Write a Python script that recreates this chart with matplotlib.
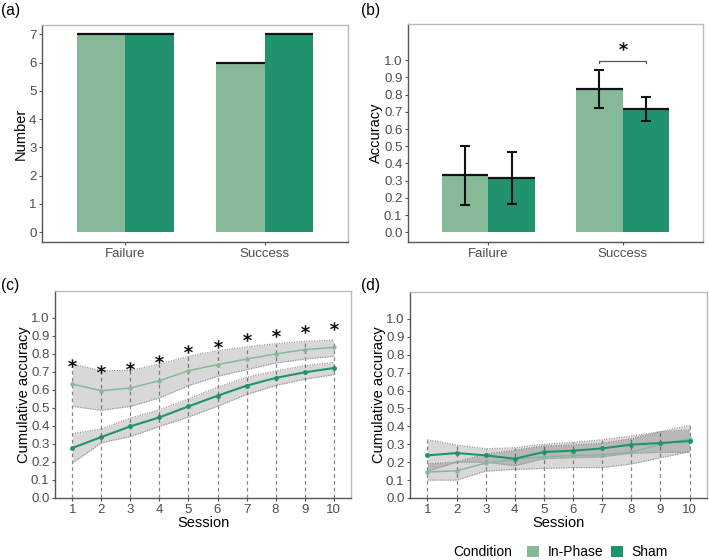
import numpy as np
import matplotlib
matplotlib.use("Agg")
import matplotlib.pyplot as plt
from matplotlib.patches import Patch

plt.rcParams['font.family'] = ['Liberation Sans', 'DejaVu Sans']

# ---------------- data ----------------
categories = ['Failure', 'Success']
conditions = ['In-Phase', 'Sham']
count_inphase = [7, 6]
count_sham = [7, 7]

acc_inphase = [0.333, 0.831]
acc_inphase_lo = [0.159, 0.720]
acc_inphase_hi = [0.503, 0.940]
acc_sham = [0.316, 0.716]
acc_sham_lo = [0.165, 0.647]
acc_sham_hi = [0.469, 0.788]

sessions = [1, 2, 3, 4, 5, 6, 7, 8, 9, 10]
session_labels = ['1', '2', '3', '4', '5', '6', '7', '8', '9', '10']

# panel (c): success group
c_inphase = [0.633, 0.596, 0.611, 0.652, 0.707, 0.741, 0.772, 0.800, 0.824, 0.837]
c_inphase_lo = [0.509, 0.487, 0.509, 0.556, 0.624, 0.676, 0.713, 0.750, 0.772, 0.787]
c_inphase_hi = [0.744, 0.707, 0.709, 0.744, 0.787, 0.818, 0.839, 0.857, 0.870, 0.876]
c_sham = [0.278, 0.339, 0.398, 0.448, 0.509, 0.568, 0.624, 0.667, 0.698, 0.722]
c_sham_lo = [0.194, 0.306, 0.342, 0.398, 0.450, 0.510, 0.575, 0.625, 0.660, 0.685]
c_sham_hi = [0.357, 0.383, 0.444, 0.490, 0.550, 0.615, 0.670, 0.705, 0.735, 0.753]
c_star = [0.750, 0.717, 0.735, 0.772, 0.828, 0.857, 0.894, 0.917, 0.939, 0.953]

# panel (d): failure group
d_inphase = [0.145, 0.152, 0.195, 0.216, 0.229, 0.238, 0.241, 0.256, 0.299, 0.331]
d_inphase_lo = [0.100, 0.100, 0.150, 0.160, 0.165, 0.170, 0.170, 0.190, 0.225, 0.258]
d_inphase_hi = [0.190, 0.200, 0.245, 0.265, 0.290, 0.295, 0.305, 0.330, 0.370, 0.405]
d_sham = [0.238, 0.251, 0.238, 0.219, 0.257, 0.264, 0.277, 0.298, 0.307, 0.318]
d_sham_lo = [0.150, 0.200, 0.200, 0.180, 0.220, 0.225, 0.230, 0.250, 0.255, 0.255]
d_sham_hi = [0.325, 0.295, 0.275, 0.280, 0.300, 0.310, 0.325, 0.345, 0.370, 0.380]

# ---------------- style ----------------
C_IN = '#86B997'
C_SH = '#21926E'
TICK_C = '#4D4D4D'
W, H = 709, 560

fig = plt.figure(figsize=(W / 100, H / 100), dpi=100)


def rect(l, r, t, b):
    return [l / W, 1 - b / H, (r - l) / W, (b - t) / H]


def style(ax):
    for s in ['top', 'right']:
        ax.spines[s].set_color('#BBBBBB')
        ax.spines[s].set_linewidth(1.0)
    for s in ['left', 'bottom']:
        ax.spines[s].set_color('#555555')
        ax.spines[s].set_linewidth(1.0)
    ax.tick_params(axis='both', length=2.5, width=0.8, color='#555555',
                   labelcolor=TICK_C, labelsize=9.5, pad=1.5)


STAR = '$\\mathbf{*}$'

# ---------- (a) ----------
axa = fig.add_axes(rect(42, 348, 25, 242))
x = np.arange(1, len(categories) + 1)
bw = 0.35
axa.bar(x - bw / 2, count_inphase, bw, color=C_IN, linewidth=0)
axa.bar(x + bw / 2, count_sham, bw, color=C_SH, linewidth=0)
for xi, v in zip(x - bw / 2, count_inphase):
    axa.hlines(v, xi - bw / 2, xi + bw / 2, color='#111111', lw=1.6)
for xi, v in zip(x + bw / 2, count_sham):
    axa.hlines(v, xi - bw / 2, xi + bw / 2, color='#111111', lw=1.6)
axa.set_xlim(0.4, 2.6)
axa.set_ylim(-0.35, 7.33)
axa.set_xticks(x)
axa.set_xticklabels(categories)
axa.set_yticks(range(0, 8))
axa.set_ylabel('Number', fontsize=10.5, labelpad=0.5)
style(axa)

# ---------- (b) ----------
axb = fig.add_axes(rect(408, 703, 24, 242))
axb.bar(x - bw / 2, acc_inphase, bw, color=C_IN, linewidth=0)
axb.bar(x + bw / 2, acc_sham, bw, color=C_SH, linewidth=0)
for xi, v in zip(x - bw / 2, acc_inphase):
    axb.hlines(v, xi - bw / 2, xi + bw / 2, color='#111111', lw=1.6)
for xi, v in zip(x + bw / 2, acc_sham):
    axb.hlines(v, xi - bw / 2, xi + bw / 2, color='#111111', lw=1.6)
ein = [np.array(acc_inphase) - np.array(acc_inphase_lo),
       np.array(acc_inphase_hi) - np.array(acc_inphase)]
esh = [np.array(acc_sham) - np.array(acc_sham_lo),
       np.array(acc_sham_hi) - np.array(acc_sham)]
axb.errorbar(x - bw / 2, acc_inphase, yerr=ein, fmt='none', ecolor='#111111',
             elinewidth=1.5, capsize=3.5, capthick=1.5)
axb.errorbar(x + bw / 2, acc_sham, yerr=esh, fmt='none', ecolor='#111111',
             elinewidth=1.5, capsize=3.5, capthick=1.5)
# significance bracket
xb1, xb2 = x[1] - bw / 2, x[1] + bw / 2
axb.plot([xb1, xb1, xb2, xb2], [0.986, 0.994, 0.994, 0.986], color='#555555', lw=0.9)
axb.scatter([(xb1 + xb2) / 2], [1.08], marker=STAR, s=40, color='#111111', linewidths=0)
axb.set_xlim(0.4, 2.6)
axb.set_ylim(-0.056, 1.21)
axb.set_xticks(x)
axb.set_xticklabels(categories)
axb.set_yticks(np.round(np.arange(0, 1.01, 0.1), 1))
axb.set_yticklabels([f'{v:.1f}' for v in np.arange(0, 1.01, 0.1)])
axb.set_ylabel('Accuracy', fontsize=10.5, labelpad=0.5)
style(axb)


# ---------- (c) and (d) ----------
def line_panel(ax, inp, inp_lo, inp_hi, sh, sh_lo, sh_hi, stars=None):
    s = np.array(sessions)
    top = np.maximum(np.array(inp_hi), np.array(sh_hi))
    for si, t in zip(s, top):
        ax.plot([si, si], [0, t], color='#888888', lw=0.9, ls=(0, (3, 2.5)), zorder=1)
    for lo, hi in [(inp_lo, inp_hi), (sh_lo, sh_hi)]:
        ax.fill_between(s, lo, hi, color='#333333', alpha=0.19, linewidth=0, zorder=2)
        ax.plot(s, lo, color='#999999', lw=0.9, ls=(0, (1, 1)), zorder=2)
        ax.plot(s, hi, color='#999999', lw=0.9, ls=(0, (1, 1)), zorder=2)
    ax.plot(s, inp, color=C_IN, lw=1.1, marker='o', ms=2.2, zorder=4)
    ax.plot(s, sh, color=C_SH, lw=1.5, marker='o', ms=2.5, zorder=4)
    if stars is not None:
        ax.scatter(s, stars, marker=STAR, s=40, color='#111111', linewidths=0, zorder=5)
    ax.set_xlim(0.4, 10.6)
    ax.set_ylim(0, 1.15)
    ax.set_xticks(s)
    ax.set_xticklabels(session_labels)
    yt = np.round(np.arange(0, 1.01, 0.1), 1)
    ax.set_yticks(yt)
    ax.set_yticklabels([f'{v:.1f}' for v in yt])
    ax.set_ylabel('Cumulative accuracy', fontsize=10.5, labelpad=0)
    ax.set_xlabel('Session', fontsize=10.5, labelpad=0.5)
    style(ax)


axc = fig.add_axes(rect(55, 351, 291, 498))
line_panel(axc, c_inphase, c_inphase_lo, c_inphase_hi, c_sham, c_sham_lo, c_sham_hi, c_star)

axd = fig.add_axes(rect(410, 707, 292, 498))
line_panel(axd, d_inphase, d_inphase_lo, d_inphase_hi, d_sham, d_sham_lo, d_sham_hi)

# panel labels
for lab, px, py in [('(a)', 1, 3), ('(b)', 361, 3), ('(c)', 1, 278), ('(d)', 361, 278)]:
    fig.text(px / W, 1 - py / H, lab, fontsize=11.2, va='top', ha='left')

# legend
handles = [Patch(facecolor=C_IN, edgecolor='none'), Patch(facecolor=C_SH, edgecolor='none')]
fig.legend(handles, conditions, loc='center left', ncol=2, frameon=False,
           bbox_to_anchor=(514.5 / W, 1 - 552 / H), fontsize=10,
           handlelength=0.86, handleheight=0.86, handletextpad=0.6,
           columnspacing=0.6, borderpad=0.4)
fig.text(512 / W, 1 - 552 / H, 'Condition', fontsize=10, ha='right', va='center')

fig.savefig('out.png', dpi=100)
